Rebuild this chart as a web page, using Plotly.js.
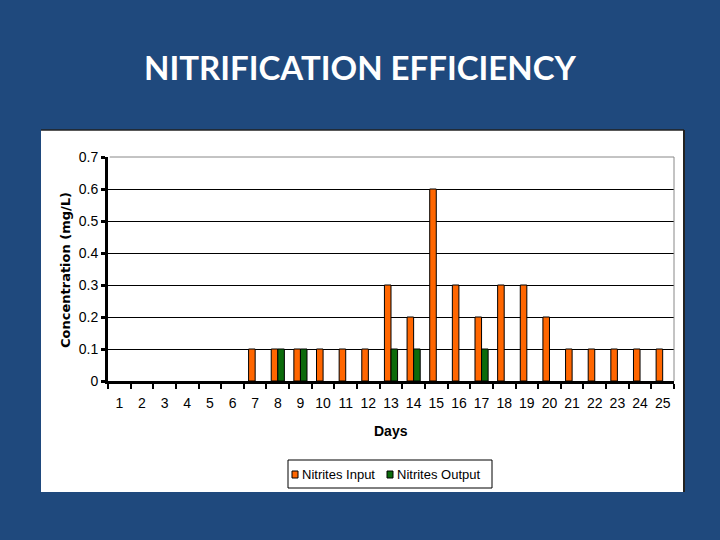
<!DOCTYPE html>
<html>
<head>
<meta charset="utf-8">
<script src="https://cdn.plot.ly/plotly-3.0.1.min.js"></script>
<style>
  html, body { margin: 0; padding: 0; background: #1F497D; }
  #chart { width: 720px; height: 540px; }
</style>
</head>
<body>
<div id="chart"></div>
<script>
// Days 1..25
const days = ["1","2","3","4","5","6","7","8","9","10","11","12","13",
              "14","15","16","17","18","19","20","21","22","23","24","25"];

// Concentrations (mg/L)
const nitritesInput  = [0, 0, 0, 0, 0, 0, 0.1, 0.1, 0.1, 0.1, 0.1, 0.1, 0.3,
                        0.2, 0.6, 0.3, 0.2, 0.3, 0.3, 0.2, 0.1, 0.1, 0.1, 0.1, 0.1];
const nitritesOutput = [0, 0, 0, 0, 0, 0, 0, 0.1, 0.1, 0, 0, 0, 0.1,
                        0.1, 0, 0, 0.1, 0, 0, 0, 0, 0, 0, 0, 0];

const ORANGE = "#FF6600";
const GREEN = "#0B6B0B";

// plot area in pixels: x 108..674, y 157..381
const L = 108, R = 674, T = 157, B = 381;
const px = x => (x - L) / (R - L);
const py = y => (B - y) / (B - T);

// no outline on empty (zero) bars
const outline = vals => vals.map(v => (v === 0 ? 0 : 1));

const traceIn = {
  type: "bar",
  x: days,
  y: nitritesInput,
  name: "Nitrites Input",
  marker: { color: ORANGE, line: { color: "#000", width: outline(nitritesInput) } }
};

const traceOut = {
  type: "bar",
  x: days,
  y: nitritesOutput,
  name: "Nitrites Output",
  marker: { color: GREEN, line: { color: "#000", width: outline(nitritesOutput) } }
};

const tickFont = { family: "Liberation Sans, Arial, sans-serif", size: 14, color: "#000" };
const legFont = { family: "Liberation Sans, Arial, sans-serif", size: 13, color: "#000" };

// small legend drawn by hand (Excel style, compact)
const legendBox = { x0: 288, x1: 492, y0: 460, y1: 488 };
const legendItems = [
  { name: traceIn.name, color: ORANGE, sx: 292, tx: 300 },
  { name: traceOut.name, color: GREEN, sx: 387, tx: 395 }
];
const legendMidY = (legendBox.y0 + legendBox.y1) / 2;

const legendShapes = [
  { type: "rect", xref: "paper", yref: "paper", layer: "above",
    x0: px(legendBox.x0), x1: px(legendBox.x1), y0: py(legendBox.y1), y1: py(legendBox.y0),
    fillcolor: "#FFFFFF", line: { color: "#000", width: 1 } }
].concat(legendItems.map(it => ({
  type: "rect", xref: "paper", yref: "paper", layer: "above",
  x0: px(it.sx), x1: px(it.sx + 6), y0: py(legendMidY + 4), y1: py(legendMidY - 3),
  fillcolor: it.color, line: { color: "#000", width: 1 }
})));

const legendTexts = legendItems.map(it => ({
  xref: "paper", yref: "paper", x: px(it.tx), y: py(legendMidY),
  text: it.name, showarrow: false, font: legFont,
  xanchor: "left", yanchor: "middle"
}));

const layout = {
  width: 720,
  height: 540,
  paper_bgcolor: "#1F497D",
  plot_bgcolor: "#FFFFFF",
  margin: { l: L, r: 720 - R, t: T, b: 540 - B, pad: 0 },
  barmode: "group",
  bargap: 0.42,
  bargroupgap: 0,
  showlegend: false,
  title: {
    text: "<b>NITRIFICATION EFFICIENCY</b>",
    x: 0.5, xref: "container", xanchor: "center",
    y: 1 - 68 / 540, yref: "container", yanchor: "middle",
    font: { family: "Lato, Open Sans, sans-serif", size: 33, color: "#FFFFFF" }
  },
  xaxis: {
    type: "category",
    tickson: "boundaries",
    tickangle: 0,
    ticks: "outside",
    ticklen: 5,
    tickwidth: 2,
    tickcolor: "#000",
    ticklabelstandoff: 7,
    showline: true,
    linecolor: "#000",
    linewidth: 3,
    showgrid: false,
    zeroline: false,
    tickfont: tickFont,
    automargin: false
  },
  yaxis: {
    range: [0, 0.7],
    dtick: 0.1,
    ticks: "outside",
    ticklen: 4,
    tickwidth: 3,
    tickcolor: "#000",
    showline: true,
    linecolor: "#000",
    linewidth: 3,
    showgrid: true,
    gridcolor: "#000",
    gridwidth: 1,
    zeroline: false,
    tickfont: tickFont,
    automargin: false
  },
  shapes: [
    // white chart box
    { type: "rect", xref: "paper", yref: "paper", layer: "below",
      x0: px(41), x1: px(684), y0: py(492), y1: py(130),
      fillcolor: "#FFFFFF", line: { width: 0 } },
    { type: "line", xref: "paper", yref: "paper", layer: "below",
      x0: px(41), x1: px(684), y0: py(130), y1: py(130),
      line: { color: "#222", width: 1.5 } },
    { type: "line", xref: "paper", yref: "paper", layer: "below",
      x0: px(684), x1: px(684), y0: py(130), y1: py(492),
      line: { color: "#222", width: 2 } },
    // plot area border (top & right, gray)
    { type: "line", xref: "paper", yref: "paper", layer: "above",
      x0: 0.003, x1: 1, y0: 1, y1: 1,
      line: { color: "#888", width: 1 } },
    { type: "line", xref: "paper", yref: "paper", layer: "above",
      x0: 1, x1: 1, y0: 0, y1: 1,
      line: { color: "#888", width: 1 } }
  ].concat(legendShapes),
  annotations: [
    { xref: "paper", yref: "paper", x: px(65), y: py(270),
      text: "<b>Concentration (mg/L)</b>", textangle: -90, showarrow: false,
      font: { family: "DejaVu Sans, sans-serif", size: 13, color: "#000" },
      xanchor: "center", yanchor: "middle" },
    { xref: "paper", yref: "paper", x: px(391), y: py(431),
      text: "<b>Days</b>", showarrow: false,
      font: { family: "Liberation Sans, Arial, sans-serif", size: 14, color: "#000" },
      xanchor: "center", yanchor: "middle" }
  ].concat(legendTexts)
};

Plotly.newPlot("chart", [traceIn, traceOut], layout, { displayModeBar: false, staticPlot: true });
</script>
</body>
</html>
